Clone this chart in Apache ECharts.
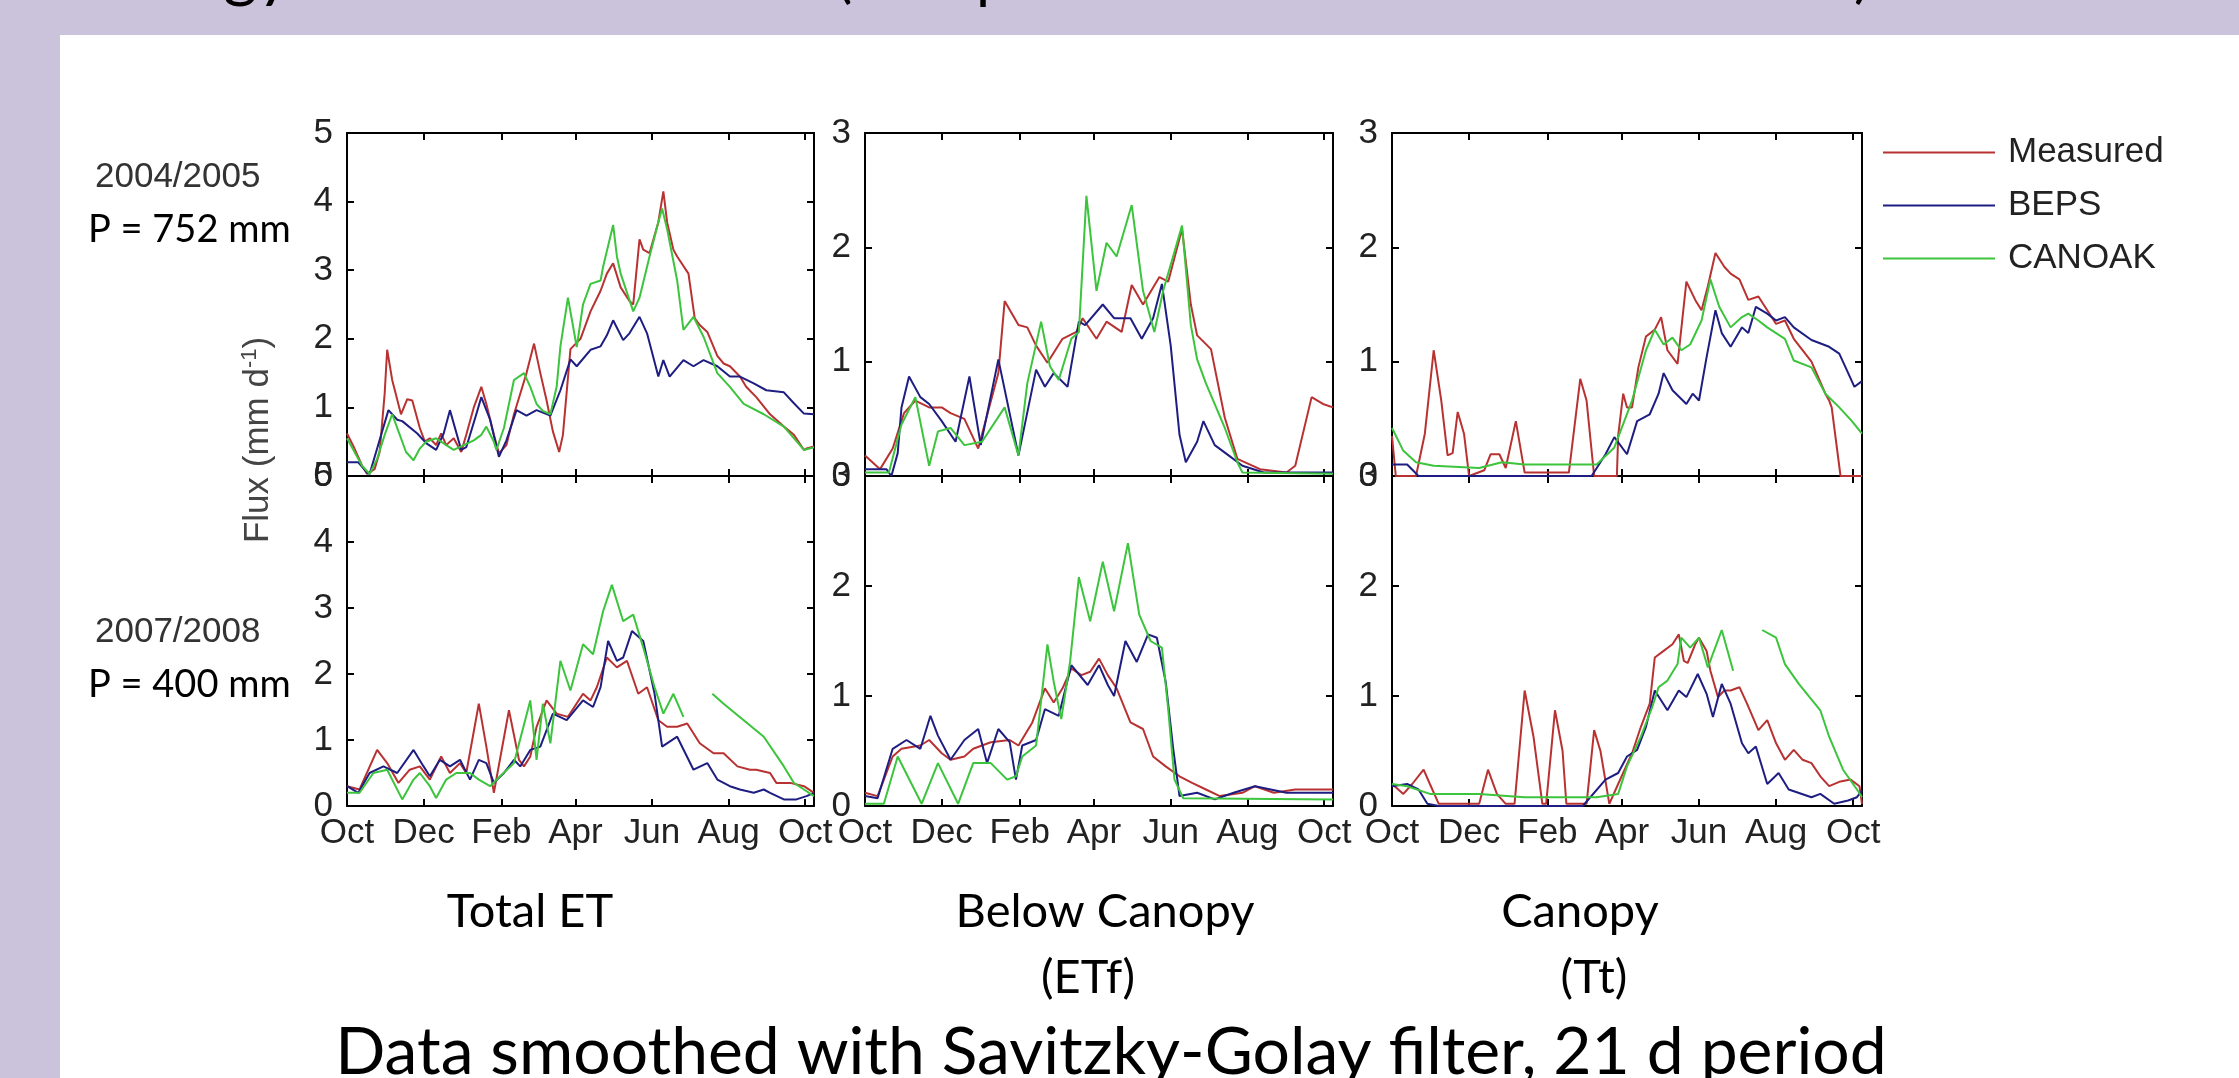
<!DOCTYPE html>
<html>
<head>
<meta charset="utf-8">
<title>Flux comparison</title>
<script src="https://cdn.jsdelivr.net/npm/echarts@6/dist/echarts.min.js"></script>
<style>
  html, body { margin: 0; padding: 0; }
  #main { width: 2239px; height: 1078px; }
</style>
</head>
<body>
<div id="main"></div>
<script>
// x axis: days from 1 Oct
var monthTicks = [0, 61, 123, 182, 243, 304, 365];
var monthLabels = ['Oct', 'Dec', 'Feb', 'Apr', 'Jun', 'Aug', 'Oct'];
var seriesNames = ['Measured', 'BEPS', 'CANOAK'];
var seriesColors = ['#b83232', '#1e1e82', '#3cc43c'];

// Total ET, 2004/2005  ([day, mm/d])
var et0405Measured = [[0,0.62],[6,0.4],[12,0.15],[16,0.03],[22,0.1],[26,0.35],[30,1.2],[32,1.84],[36,1.4],[43,0.9],[48,1.12],[52,1.1],[58,0.7],[62,0.5],[66,0.55],[71,0.45],[75,0.62],[79,0.45],[85,0.55],[91,0.35],[95,0.6],[101,1.0],[107,1.3],[111,1.05],[117,0.6],[121,0.33],[127,0.45],[133,0.9],[138,1.2],[143,1.5],[149,1.93],[154,1.5],[159,1.1],[164,0.65],[169,0.35],[172,0.6],[178,1.85],[186,2.0],[194,2.4],[202,2.7],[207,2.95],[212,3.1],[218,2.75],[225,2.55],[228,2.5],[233,3.45],[236,3.3],[241,3.25],[248,3.7],[252,4.15],[255,3.7],[260,3.3],[263,3.2],[272,2.95],[277,2.3],[281,2.2],[287,2.1],[295,1.75],[300,1.64],[305,1.6],[313,1.45],[318,1.3],[326,1.15],[337,0.9],[348,0.72],[356,0.6],[364,0.38],[366,0.4],[372,0.43]];
var et0405Beps = [[0,0.2],[9,0.2],[16,0.05],[18,0.03],[24,0.4],[33,0.96],[40,0.82],[44,0.8],[56,0.62],[63,0.48],[71,0.38],[77,0.62],[82,0.96],[91,0.38],[95,0.42],[103,0.9],[107,1.15],[114,0.82],[121,0.28],[127,0.52],[135,0.96],[143,0.88],[151,0.96],[162,0.88],[170,1.25],[178,1.7],[183,1.6],[194,1.84],[202,1.89],[207,2.05],[212,2.27],[220,1.98],[225,2.08],[233,2.32],[239,2.08],[248,1.45],[252,1.69],[257,1.45],[268,1.69],[276,1.6],[284,1.69],[295,1.6],[305,1.45],[313,1.45],[324,1.35],[334,1.25],[348,1.22],[356,1.06],[364,0.91],[372,0.9]];
var et0405Canoak = [[0,0.55],[6,0.35],[12,0.15],[18,0.03],[24,0.25],[30,0.6],[36,0.9],[41,0.65],[47,0.35],[53,0.23],[58,0.4],[63,0.5],[71,0.55],[79,0.45],[85,0.38],[93,0.45],[101,0.52],[107,0.6],[111,0.72],[117,0.5],[119,0.38],[125,0.7],[133,1.4],[141,1.5],[146,1.3],[151,1.05],[156,0.95],[162,0.9],[167,1.3],[170,1.89],[176,2.6],[183,1.88],[188,2.5],[194,2.8],[202,2.85],[204,3.05],[212,3.66],[215,3.2],[218,2.95],[228,2.4],[233,2.6],[241,3.2],[248,3.7],[251,3.9],[255,3.6],[263,2.85],[268,2.13],[276,2.32],[284,2.03],[295,1.5],[305,1.3],[316,1.05],[332,0.9],[348,0.72],[364,0.38],[372,0.42]];

// Total ET, 2007/2008
var et0708Measured = [[0,0.3],[10,0.25],[24,0.85],[32,0.65],[41,0.35],[50,0.55],[58,0.6],[66,0.4],[75,0.75],[82,0.5],[90,0.65],[95,0.5],[105,1.55],[111,0.9],[117,0.2],[129,1.45],[137,0.7],[141,0.6],[146,0.75],[151,1.2],[159,1.6],[167,1.4],[176,1.35],[188,1.7],[194,1.6],[199,1.8],[207,2.25],[215,2.1],[223,2.2],[232,1.7],[239,1.8],[248,1.3],[255,1.2],[263,1.2],[271,1.25],[281,0.95],[292,0.8],[300,0.8],[311,0.6],[321,0.55],[326,0.55],[337,0.5],[342,0.35],[353,0.35],[364,0.3],[372,0.2]];
var et0708Beps = [[0,0.3],[9,0.2],[18,0.5],[29,0.6],[40,0.5],[53,0.85],[61,0.6],[66,0.45],[74,0.7],[82,0.6],[90,0.7],[98,0.4],[105,0.7],[111,0.65],[117,0.35],[125,0.5],[133,0.7],[138,0.6],[146,0.85],[154,0.9],[164,1.4],[175,1.3],[188,1.6],[196,1.5],[202,1.8],[208,2.5],[215,2.2],[220,2.25],[227,2.65],[236,2.5],[245,1.7],[251,0.9],[263,1.05],[276,0.55],[287,0.65],[295,0.4],[305,0.3],[313,0.25],[324,0.2],[332,0.25],[337,0.2],[348,0.1],[358,0.1],[366,0.15],[372,0.2]];
var et0708Canoak = [[0,0.2],[10,0.2],[21,0.5],[32,0.55],[44,0.1],[53,0.4],[58,0.5],[66,0.3],[71,0.12],[79,0.4],[87,0.5],[98,0.5],[105,0.4],[114,0.3],[122,0.45],[133,0.65],[146,1.6],[151,0.7],[156,1.55],[162,0.95],[170,2.2],[178,1.75],[188,2.45],[196,2.3],[204,2.95],[211,3.35],[220,2.8],[228,2.9],[236,2.4],[245,1.8],[252,1.4],[260,1.7],[268,1.35],[280,'-'],[291,1.7],[300,1.55],[316,1.3],[332,1.05],[348,0.6],[356,0.35],[364,0.25],[372,0.15]];

// Below canopy (ETf), 2004/2005
var etf0405Measured = [[0,0.18],[12,0.06],[22,0.24],[31,0.55],[40,0.66],[51,0.6],[61,0.6],[68,0.55],[79,0.5],[90,0.24],[106,0.9],[111,1.53],[122,1.32],[129,1.3],[136,1.14],[145,0.99],[157,1.2],[168,1.26],[173,1.38],[184,1.2],[192,1.35],[204,1.26],[212,1.67],[221,1.5],[234,1.74],[241,1.7],[252,2.16],[259,1.5],[264,1.23],[275,1.11],[286,0.51],[296,0.15],[314,0.06],[335,0.03],[342,0.09],[355,0.69],[364,0.63],[372,0.6]];
var etf0405Beps = [[0,0.06],[17,0.06],[21,0],[26,0.2],[29,0.6],[35,0.87],[44,0.69],[51,0.63],[61,0.48],[72,0.3],[83,0.87],[92,0.27],[106,1.02],[122,0.18],[136,0.93],[143,0.78],[150,0.9],[161,0.78],[170,1.35],[175,1.32],[189,1.5],[198,1.38],[211,1.38],[220,1.2],[229,1.38],[236,1.68],[243,1.14],[250,0.36],[255,0.12],[264,0.3],[269,0.48],[278,0.27],[289,0.18],[300,0.09],[317,0.03],[372,0.03]];
var etf0405Canoak = [[0,0.03],[19,0.03],[29,0.45],[40,0.69],[51,0.09],[58,0.39],[68,0.42],[79,0.27],[93,0.3],[111,0.6],[122,0.18],[129,0.81],[140,1.35],[147,0.96],[154,0.84],[164,1.2],[170,1.26],[176,2.45],[184,1.62],[192,2.04],[200,1.92],[212,2.37],[221,1.62],[230,1.26],[237,1.62],[252,2.19],[259,1.32],[264,1.02],[271,0.81],[286,0.42],[296,0.12],[300,0.03],[372,0.02]];

// Below canopy (ETf), 2007/2008
var etf0708Measured = [[0,0.12],[10,0.09],[22,0.45],[29,0.52],[44,0.55],[51,0.6],[61,0.48],[68,0.42],[79,0.45],[86,0.52],[100,0.58],[115,0.6],[122,0.55],[133,0.76],[143,1.07],[150,0.94],[157,1.07],[164,1.25],[172,1.19],[179,1.22],[186,1.34],[193,1.19],[200,1.07],[211,0.76],[221,0.7],[229,0.45],[239,0.36],[250,0.27],[260,0.21],[271,0.15],[282,0.09],[300,0.12],[310,0.18],[325,0.12],[342,0.15],[372,0.15]];
var etf0708Beps = [[0,0.09],[10,0.07],[22,0.52],[33,0.6],[44,0.52],[52,0.82],[58,0.64],[68,0.42],[79,0.6],[90,0.7],[97,0.39],[106,0.7],[115,0.58],[120,0.24],[125,0.55],[136,0.6],[143,0.88],[154,0.82],[164,1.28],[177,1.1],[186,1.28],[193,1.1],[198,1.0],[207,1.5],[216,1.31],[225,1.56],[232,1.53],[239,1.13],[245,0.52],[250,0.09],[264,0.12],[278,0.06],[293,0.12],[310,0.18],[335,0.12],[372,0.12]];
var etf0708Canoak = [[0,0.02],[15,0.02],[26,0.45],[45,0.02],[58,0.39],[74,0.02],[86,0.39],[100,0.39],[113,0.24],[120,0.27],[125,0.45],[136,0.55],[145,1.47],[150,1.13],[156,0.79],[163,1.31],[170,2.08],[179,1.68],[189,2.22],[198,1.77],[209,2.39],[218,1.74],[227,1.5],[236,1.44],[241,0.88],[246,0.24],[253,0.07],[372,0.06]];

// Canopy (Tt), 2004/2005
var tt0405Measured = [[0,0.35],[3,0],[19,0],[26,0.37],[33,1.1],[39,0.66],[44,0.18],[48,0.2],[52,0.56],[57,0.37],[61,0],[73,0.05],[78,0.19],[85,0.19],[90,0.07],[98,0.48],[105,0.03],[140,0.03],[149,0.85],[154,0.66],[160,0],[178,0],[179,0.35],[183,0.72],[186,0.6],[190,0.6],[195,0.95],[201,1.22],[208,1.28],[213,1.39],[218,1.1],[226,0.98],[233,1.7],[240,1.54],[245,1.45],[250,1.66],[256,1.95],[263,1.83],[268,1.77],[275,1.72],[282,1.54],[290,1.57],[297,1.45],[304,1.33],[311,1.36],[318,1.2],[332,1.0],[343,0.72],[346,0.66],[348,0.6],[355,0],[372,0]];
var tt0405Beps = [[0,0.1],[12,0.1],[21,0],[158,0],[169,0.19],[176,0.34],[186,0.19],[194,0.48],[204,0.54],[211,0.72],[215,0.9],[222,0.75],[233,0.63],[238,0.72],[243,0.66],[249,1.04],[256,1.45],[261,1.25],[268,1.13],[277,1.3],[282,1.25],[288,1.48],[297,1.42],[304,1.36],[311,1.39],[318,1.3],[332,1.19],[346,1.13],[354,1.07],[359,0.95],[366,0.78],[372,0.83]];
var tt0405Canoak = [[0,0.42],[9,0.22],[19,0.12],[33,0.09],[69,0.07],[87,0.12],[105,0.1],[140,0.1],[162,0.1],[176,0.25],[190,0.66],[201,1.1],[208,1.28],[215,1.15],[222,1.21],[229,1.1],[236,1.15],[245,1.36],[252,1.72],[259,1.48],[268,1.3],[277,1.39],[282,1.42],[290,1.36],[297,1.3],[304,1.25],[311,1.2],[318,1.01],[332,0.95],[343,0.72],[354,0.6],[364,0.48],[372,0.37]];

// Canopy (Tt), 2007/2008
var tt0708Measured = [[0,0.2],[9,0.11],[16,0.2],[25,0.33],[30,0.2],[37,0.02],[69,0.02],[76,0.33],[83,0.11],[90,0.02],[97,0.02],[105,1.05],[112,0.63],[119,0.02],[122,0.02],[129,0.87],[135,0.5],[138,0.02],[154,0.02],[160,0.69],[165,0.5],[172,0.02],[179,0.2],[190,0.48],[197,0.72],[204,0.93],[208,1.35],[215,1.41],[222,1.47],[227,1.56],[231,1.32],[234,1.3],[240,1.47],[243,1.53],[249,1.41],[252,1.23],[258,0.99],[263,1.05],[268,1.05],[275,1.08],[281,0.93],[290,0.69],[297,0.78],[304,0.57],[311,0.42],[318,0.51],[325,0.42],[332,0.39],[339,0.27],[346,0.18],[354,0.22],[363,0.24],[370,0.18],[372,0.02]];
var tt0708Beps = [[0,0.18],[12,0.2],[21,0.15],[28,0.02],[37,0],[151,0],[169,0.24],[179,0.3],[186,0.45],[194,0.51],[201,0.72],[208,1.05],[218,0.87],[227,1.05],[233,0.99],[242,1.2],[249,1.02],[254,0.81],[261,1.11],[268,0.93],[277,0.57],[282,0.48],[288,0.54],[297,0.2],[306,0.3],[314,0.15],[332,0.08],[339,0.11],[350,0.02],[361,0.05],[368,0.08],[372,0.14]];
var tt0708Canoak = [[0,0.2],[12,0.18],[30,0.11],[69,0.11],[105,0.08],[140,0.08],[162,0.08],[179,0.11],[186,0.36],[197,0.63],[206,0.9],[211,1.08],[218,1.14],[226,1.29],[229,1.53],[236,1.44],[243,1.53],[250,1.26],[261,1.6],[270,1.23],[281,'-'],[293,1.6],[304,1.53],[311,1.29],[322,1.11],[339,0.87],[346,0.63],[357,0.33],[368,0.15],[372,0.08]];

// panel layout
var colLeft = [347, 865, 1392];
var colWidth = [467, 468, 470];
var rowTop = [133, 476];
var rowHeight = [343, 330];

var panels = [
  { row: 0, col: 0, ymax: 5, data: [et0405Measured, et0405Beps, et0405Canoak] },
  { row: 0, col: 1, ymax: 3, data: [etf0405Measured, etf0405Beps, etf0405Canoak] },
  { row: 0, col: 2, ymax: 3, data: [tt0405Measured, tt0405Beps, tt0405Canoak] },
  { row: 1, col: 0, ymax: 5, data: [et0708Measured, et0708Beps, et0708Canoak] },
  { row: 1, col: 1, ymax: 3, data: [etf0708Measured, etf0708Beps, etf0708Canoak] },
  { row: 1, col: 2, ymax: 3, data: [tt0708Measured, tt0708Beps, tt0708Canoak] }
];

var axisFont = 'Liberation Sans';
var slideFont = 'Lato';
var black = { color: '#000', width: 2 };

var grids = [], xAxes = [], yAxes = [], series = [];

panels.forEach(function (p, g) {
  grids.push({
    left: colLeft[p.col], top: rowTop[p.row],
    width: colWidth[p.col], height: rowHeight[p.row]
  });
  [['bottom', p.row === 1], ['top', false]].forEach(function (a) {
    xAxes.push({
      type: 'value', gridIndex: g, position: a[0], min: 0, max: 372,
      axisLine: { show: true, onZero: false, lineStyle: black },
      axisTick: { show: true, inside: true, length: 7, customValues: monthTicks, lineStyle: black },
      axisLabel: {
        show: a[1], customValues: monthTicks, margin: 10,
        fontSize: 35, fontFamily: axisFont, color: '#222',
        formatter: function (v) {
          var i = monthTicks.indexOf(v);
          return i < 0 ? '' : monthLabels[i];
        }
      },
      splitLine: { show: false }
    });
  });
  [['left', true], ['right', false]].forEach(function (a) {
    yAxes.push({
      type: 'value', gridIndex: g, position: a[0], min: 0, max: p.ymax, interval: 1,
      axisLine: { show: true, onZero: false, lineStyle: black },
      axisTick: { show: true, inside: true, length: 7, lineStyle: black },
      axisLabel: {
        show: a[1], margin: 14, fontSize: 35, fontFamily: axisFont, color: '#222',
        showMinLabel: true, showMaxLabel: true
      },
      splitLine: { show: false }
    });
  });
  p.data.forEach(function (d, s) {
    series.push({
      type: 'line', name: seriesNames[s], data: d,
      xAxisIndex: 2 * g, yAxisIndex: 2 * g,
      symbol: 'none', showSymbol: false,
      lineStyle: { color: seriesColors[s], width: 2 },
      itemStyle: { color: seriesColors[s] },
      z: 2 + s
    });
  });
});

function label(text, x, y, size, align, extra) {
  var el = {
    type: 'text', x: x, y: y, z: 5,
    style: {
      text: text, fontSize: size, fontFamily: slideFont, fill: '#000',
      align: align, textAlign: align, verticalAlign: 'middle', textVerticalAlign: 'middle'
    }
  };
  if (extra) Object.assign(el.style, extra);
  return el;
}

var myChart = echarts.init(document.getElementById('main'));

var option = {
  animation: false,
  backgroundColor: '#cbc3dc',
  grid: grids,
  xAxis: xAxes,
  yAxis: yAxes,
  series: series,
  legend: {
    orient: 'vertical', left: 1878, top: 130,
    itemWidth: 112, itemHeight: 2, itemGap: 18, icon: 'rect',
    data: seriesNames,
    textStyle: { fontSize: 35, fontFamily: axisFont, color: '#222', padding: [0, 0, 0, 8] }
  },
  graphic: [
    { type: 'rect', z: -10, shape: { x: 60, y: 35, width: 2179, height: 1043 }, style: { fill: '#ffffff' } },
    // slide title, cut off by the top edge
    label('Energy Flux Model Results', 91, -26, 66, 'left'),
    label('(Comparison with BEPS and CANOAK)', 836, -24, 61, 'left'),
    label('2004/2005', 95, 177, 35, 'left', { fontFamily: axisFont, fill: '#333' }),
    label('P = 752 mm', 88, 230, 38, 'left'),
    label('2007/2008', 95, 632, 35, 'left', { fontFamily: axisFont, fill: '#333' }),
    label('P = 400 mm', 88, 685, 38, 'left'),
    {
      type: 'text', x: 258, y: 440, rotation: Math.PI / 2, z: 5,
      style: {
        text: 'Flux (mm d{s|-1})', fontSize: 35, fontFamily: axisFont, fill: '#444',
        align: 'center', textAlign: 'center', verticalAlign: 'middle', textVerticalAlign: 'middle',
        rich: { s: { fontSize: 22, fontFamily: axisFont, fill: '#444', padding: [0, 0, 16, 0] } }
      }
    },
    label('Total ET', 530, 912, 47, 'center'),
    label('Below Canopy', 1105, 912, 47, 'center'),
    label('(ETf)', 1088, 978, 47, 'center'),
    label('Canopy', 1580, 912, 47, 'center'),
    label('(Tt)', 1594, 978, 47, 'center'),
    label('Data smoothed with Savitzky-Golay filter, 21 d period', 1111, 1053, 66, 'center')
  ]
};

myChart.setOption(option);
</script>
</body>
</html>
